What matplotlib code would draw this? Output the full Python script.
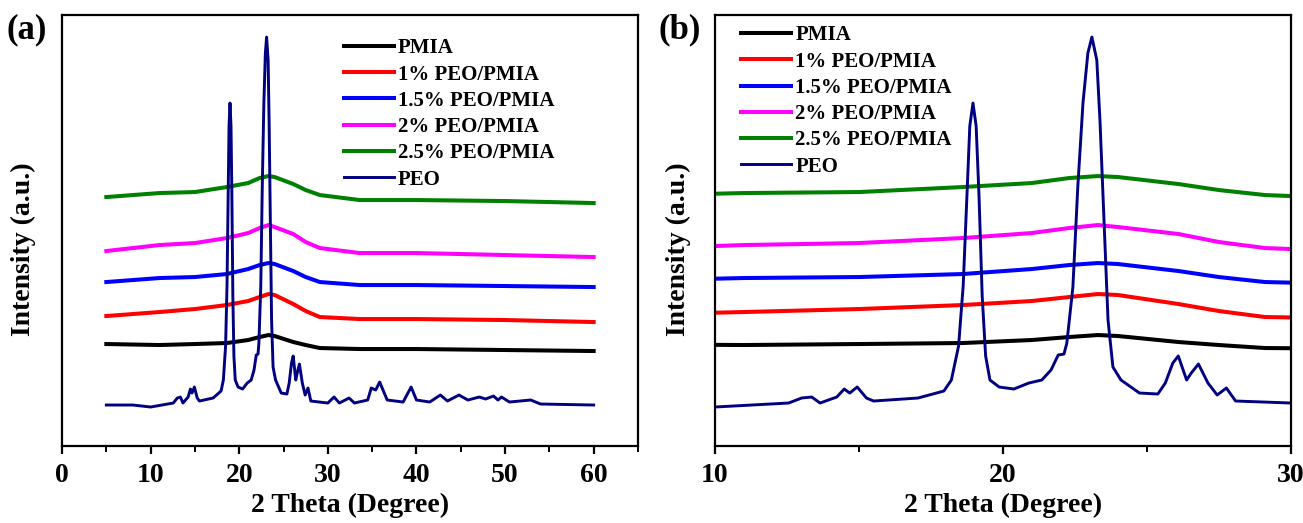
import matplotlib
matplotlib.use("Agg")
import matplotlib.pyplot as plt
from matplotlib.ticker import MultipleLocator

plt.rcParams['font.family'] = ['Liberation Serif', 'DejaVu Serif']
plt.rcParams['font.weight'] = 'bold'

# ---- data (intensity in arbitrary units) ----
labels = ['PMIA', '1% PEO/PMIA', '1.5% PEO/PMIA', '2% PEO/PMIA', '2.5% PEO/PMIA', 'PEO']
colors = ['#000000', '#ff0000', '#0000ff', '#ff00ff', '#008000', '#000080']

# broad amorphous curves (PMIA and blends)
theta_broad = [5, 11, 15, 18.6, 21, 22.3, 23.3, 24, 26.1, 27.5, 29.1, 33.6, 40, 50, 60]
pmia   = [102, 101, 102, 103, 106, 109, 111, 110, 104, 101, 98, 97, 97, 96, 95]
peo_1  = [130, 134, 137, 141, 145, 149, 152, 151, 142, 135, 129, 127, 127, 126, 124]
peo_15 = [164, 168, 169, 172, 177, 181, 183, 182, 175, 169, 164, 161, 161, 160, 159]
peo_2  = [195, 201, 203, 208, 213, 218, 221, 219, 212, 204, 198, 193, 193, 191, 189]
peo_25 = [249, 253, 254, 259, 263, 268, 270, 269, 262, 256, 251, 246, 246, 245, 243]

# crystalline PEO pattern
theta_peo = [5, 8, 10, 12.56, 13.01, 13.36, 13.65, 14.23, 14.49, 14.68, 14.94, 15.26, 15.51,
             17.05, 17.95, 18.21, 18.46, 18.62, 18.75, 18.85, 18.96, 19.07, 19.17, 19.28, 19.4,
             19.55, 19.87, 20.38, 20.9, 21.35, 21.67, 21.92, 22.12, 22.22, 22.43, 22.6, 22.78,
             22.95, 23.09, 23.26, 23.37, 23.51, 23.65, 23.82, 24.1, 24.74, 25.38, 25.64, 25.9,
             26.09, 26.38, 26.54, 26.79, 27.12, 27.44, 27.76, 28.08, 30.0, 30.7, 31.3, 32.4,
             33.0, 34.5, 34.9, 35.4, 35.85, 36.7, 38.5, 39.4, 40.0, 41.5, 42.7, 43.5, 44.8,
             45.8, 47.1, 47.8, 48.7, 49.2, 49.6, 50.5, 52.9, 54, 60]
peo       = [41, 41, 39, 43, 48, 49, 43, 49, 57, 53, 59, 48, 45,
             48, 55, 66, 100, 160, 250, 320, 343, 320, 250, 150, 90,
             66, 59, 57, 63, 66, 76, 91, 92, 103, 159, 259, 343,
             393, 409, 386, 326, 226, 126, 79, 66, 53, 52, 63, 83,
             90, 66, 73, 82, 63, 51, 58, 45, 43, 49, 43, 48,
             43, 46, 58, 56, 64, 46, 44, 59, 46, 44, 51, 45, 51,
             46, 49, 47, 50, 46, 49, 44, 46, 42, 41]

broad_series = [pmia, peo_1, peo_15, peo_2, peo_25]

fig = plt.figure(figsize=(13.03, 5.23), dpi=100)
ax_a = fig.add_axes([0.0476, 0.1472, 0.442, 0.824])
ax_b = fig.add_axes([0.5487, 0.1472, 0.442, 0.824])

for ax in (ax_a, ax_b):
    for ys, lab, col in zip(broad_series, labels[:5], colors[:5]):
        ax.plot(theta_broad, ys, color=col, linewidth=2.9, label=lab,
                solid_joinstyle='round')
    ax.plot(theta_peo, peo, color=colors[5], linewidth=2.1, label=labels[5],
            solid_joinstyle='round')
    ax.set_ylim(0, 431)
    ax.set_yticks([])
    for sp in ax.spines.values():
        sp.set_linewidth(1.6)
    ax.tick_params(axis='x', which='major', direction='out', length=6, width=1.6,
                   labelsize=20, pad=6)
    ax.tick_params(axis='x', which='minor', direction='out', length=4, width=1.4)
    ax.set_xlabel('2 Theta (Degree)', fontsize=20, fontweight='bold', labelpad=4)
    ax.set_ylabel('Intensity (a.u.)', fontsize=20, fontweight='bold')

ax_a.yaxis.set_label_coords(-0.045, 0.457)
ax_b.yaxis.set_label_coords(-0.042, 0.457)

ax_a.set_xlim(0, 65)
ax_a.xaxis.set_major_locator(MultipleLocator(10))
ax_a.xaxis.set_minor_locator(MultipleLocator(5))
ax_b.set_xlim(10, 30)
ax_b.xaxis.set_major_locator(MultipleLocator(10))
ax_b.xaxis.set_minor_locator(MultipleLocator(5))

leg_kw = dict(frameon=False, fontsize=15, handlelength=2.4, handletextpad=0.2,
              labelspacing=0.3, borderaxespad=0.3)
ax_a.legend(loc='upper right', bbox_to_anchor=(0.88, 0.98), **leg_kw)
ax_b.legend(loc='upper left', bbox_to_anchor=(0.02, 1.01), **leg_kw)

fig.text(0.005, 0.943, '(a)', fontsize=25, fontweight='bold', va='center')
fig.text(0.505, 0.943, '(b)', fontsize=25, fontweight='bold', va='center')

plt.savefig('out.png', dpi=100)
